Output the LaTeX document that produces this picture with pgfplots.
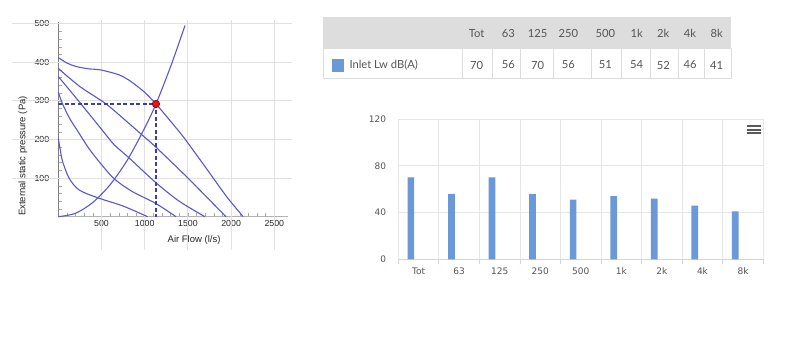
\documentclass[border=0pt]{standalone}
\usepackage{pgfplots}
\pgfplotsset{compat=1.18}
\usepackage{fontspec}
\setmainfont{Liberation Sans}
\newfontfamily\latof{Lato}
\newfontfamily\dejaf{DejaVu Sans}
\definecolor{curveblue}{RGB}{88,88,208}
\definecolor{dashblue}{RGB}{60,60,170}
\definecolor{barblue}{RGB}{106,152,217}
\definecolor{hdrgray}{RGB}{221,221,221}
\definecolor{tbgray}{RGB}{221,221,221}
\definecolor{txtgray}{RGB}{85,85,85}
\definecolor{gridc}{RGB}{225,225,225}
\definecolor{hcgrid}{RGB}{230,230,230}
\definecolor{hcaxis}{RGB}{204,214,235}
\definecolor{hclab}{RGB}{85,85,85}
\definecolor{ptred}{RGB}{235,20,20}
\definecolor{ptdark}{RGB}{130,0,0}
\begin{document}
\begin{tikzpicture}
\fill[white] (0,0) rectangle (802pt,-346pt);
\useasboundingbox (0,0) rectangle (802pt,-346pt);

% ---------- table ----------
\fill[hdrgray] (323.3pt,-17.3pt) rectangle (731pt,-48.3pt);
\draw[tbgray, line width=0.8pt] (323.3pt,-48.3pt) rectangle (731pt,-78.3pt);
\foreach \x in {462.7,492.7,520,553.3,591.7,621.7,650,678.3,704.3}
  \draw[tbgray, line width=0.8pt] (\x pt,-48.3pt) -- (\x pt,-78.3pt);
\fill[barblue] (331.7pt,-58.5pt) rectangle (344pt,-71.5pt);
\node[anchor=west, text=txtgray, font=\latof\fontsize{11.2}{13}\selectfont, inner sep=0pt] at (349.3pt,-65pt) {Inlet Lw dB(A)};
\foreach \x/\h/\v in {476.7/Tot/70, 508.3/63/56, 537.7/125/70, 568.3/250/56, 605.3/500/51, 636.7/1k/54, 663.3/2k/52, 690/4k/46, 716.7/8k/41} {
  \node[text=txtgray, font=\latof\fontsize{11.2}{13}\selectfont, inner sep=0pt] at (\x pt,-33.3pt) {\h};
  \node[text=txtgray, font=\latof\fontsize{11.2}{13}\selectfont, inner sep=0pt] at (\x pt,-65pt) {\v};
}

% hamburger icon
\fill[black!65] (747.3pt,-125pt) rectangle (760.7pt,-127pt);
\fill[black!65] (747.3pt,-128.6pt) rectangle (760.7pt,-130.6pt);
\fill[black!65] (747.3pt,-132.2pt) rectangle (760.7pt,-134.2pt);

% ---------- fan curves ----------
\begin{axis}[
  at={(58.3pt,-216.7pt)}, anchor=south west, scale only axis,
  width=229.7pt, height=195pt,
  xmin=0, xmax=2658, ymin=0, ymax=505,
  axis x line*=bottom, axis y line*=left,
  x axis line style={-, draw=black!30, line width=1.4pt},
  y axis line style={-, draw=black!50, line width=0.8pt},
  xtick={0,500,1000,1500,2000,2500},
  xticklabels={,500,1000,1500,2000,2500},
  ytick={0,100,200,300,400,500},
  yticklabels={,100,200,300,400,500},
  minor x tick num=4, minor y tick num=4,
  tick align=inside, major tick length=3.5pt, minor tick length=3.5pt,
  tick style={draw=black!35, line width=0.5pt},
  /pgf/number format/assume math mode=true,
  ticklabel style={font=\fontsize{8.8}{10}\selectfont, text=black!85},
  yticklabel style={xshift=-5.5pt},
  xticklabel style={yshift=-0.5pt},
  xlabel={Air Flow (l/s)},
  ylabel={External static pressure (Pa)},
  x label style={at={(axis description cs:0.591,0)}, anchor=center, yshift=-23.5pt, font=\fontsize{9.5}{11}\selectfont, text=black!85},
  y label style={at={([xshift=-35.5pt]axis description cs:0,0.311)}, anchor=center, font=\fontsize{9.5}{11}\selectfont, text=black!85},
  clip=false,
]
\pgfplotsinvokeforeach{100,200,300,400,500}{
  \draw[gridc, line width=0.9pt] ([xshift=-46.3pt]axis cs:0,#1) -- ([xshift=4pt]axis cs:2658,#1);
}
\pgfplotsinvokeforeach{500,1000,1500,2000,2500}{
  \draw[gridc, line width=0.9pt] ([yshift=1.7pt]axis cs:#1,505) -- ([yshift=-33pt]axis cs:#1,0);
}
% fan curves
\addplot[curveblue, line width=1.1pt, smooth] coordinates {
 (0,412) (100,398) (205,389) (350,383) (494,380) (706,367) (841,350) (1000,322) (1130,292) (1300,247) (1446,207) (1600,160) (1755,112) (1948,52) (2140,0)};
\addplot[curveblue, line width=1.1pt, smooth] coordinates {
 (0,384) (250,337) (552,292) (841,237) (968,212) (1130,180) (1500,100) (1940,0)};
\addplot[curveblue, line width=1.1pt, smooth] coordinates {
 (0,363) (263,292) (552,212) (648,186) (815,153) (1130,88) (1400,40) (1697,0)};
\addplot[curveblue, line width=1.1pt, smooth] coordinates {
 (0,322) (50,292) (130,255) (224,222) (350,178) (500,135) (648,98) (850,66) (1130,34) (1362,0)};
\addplot[curveblue, line width=1.1pt, smooth] coordinates {
 (0,203) (25,170) (51,142) (127,99) (243,69) (456,49) (745,28) (1034,0)};
% system curve
\addplot[curveblue, line width=1.1pt, smooth] coordinates {
 (0,0) (200,9) (400,37) (600,83) (800,147) (1000,230) (1130,292) (1300,389) (1466,495)};
% operating point guides
\addplot[dashblue, line width=1.6pt, dash pattern=on 4pt off 2.5pt] coordinates {(0,292) (1130,292)};
\addplot[dashblue, line width=1.6pt, dash pattern=on 4pt off 2.5pt] coordinates {(1130,292) (1130,0)};
\addplot[only marks, mark=*, mark size=3.7pt, mark options={fill=ptred, draw=ptdark, line width=0.6pt}] coordinates {(1130,292)};
\end{axis}

% ---------- bar chart ----------
\begin{axis}[
  at={(398.3pt,-259.3pt)}, anchor=south west, scale only axis,
  width=365pt, height=140.3pt,
  xmin=-0.5, xmax=8.5, ymin=0, ymax=120,
  axis x line*=bottom, axis y line*=left,
  x axis line style={-, draw=hcaxis, line width=0.9pt},
  y axis line style={draw=none},
  ytick={0,40,80,120},
  ymajorgrids, grid style={draw=hcgrid, line width=0.8pt},
  xtick={0,1,2,3,4,5,6,7,8},
  xticklabels={Tot,63,125,250,500,1k,2k,4k,8k},
  major tick length=0pt,
  extra x ticks={-0.5,0.5,1.5,2.5,3.5,4.5,5.5,6.5,7.5,8.5},
  extra x tick labels={},
  extra x tick style={grid=major, major tick length=5pt, tick align=outside, tick style={draw=hcaxis, line width=0.9pt}},
  /pgf/number format/assume math mode=true,
  ticklabel style={font=\dejaf\fontsize{9}{10}\selectfont, text=hclab},
  yticklabel style={xshift=-8.6pt},
  xticklabel style={yshift=-5pt},
]
\addplot[ybar, bar width=6.7pt, bar shift=0pt, fill=barblue, draw=none] coordinates {
 (-0.19,70) (0.81,56) (1.81,70) (2.81,56) (3.81,51) (4.81,54) (5.81,52) (6.81,46) (7.81,41)};
\end{axis}
\end{tikzpicture}
\end{document}
